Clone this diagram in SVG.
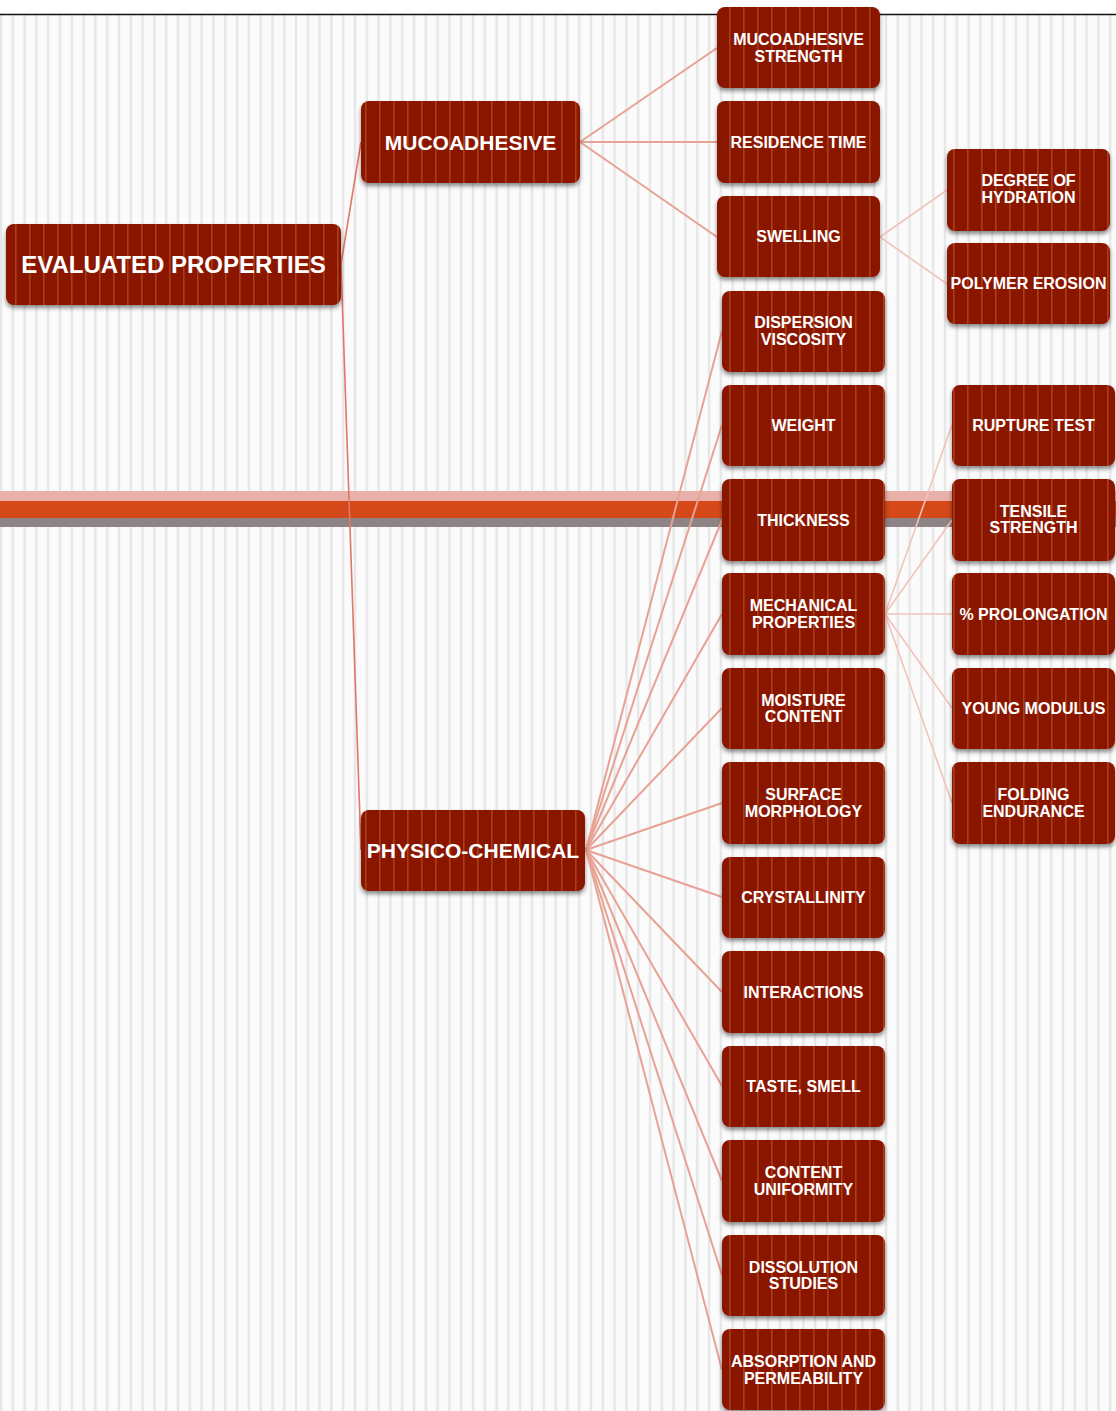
<svg xmlns="http://www.w3.org/2000/svg" width="1116" height="1411" viewBox="0 0 1116 1411">
<defs>
<linearGradient id="bgs" x1="0" y1="0" x2="1" y2="0">
<stop offset="0" stop-color="#ffffff"/>
<stop offset="0.5" stop-color="#dedede"/>
<stop offset="1" stop-color="#ffffff"/>
</linearGradient>
<pattern id="bg" patternUnits="userSpaceOnUse" x="-1" y="0" width="11.8" height="20">
<rect width="11.8" height="20" fill="#fbfbfb"/>
<rect x="0" width="4" height="20" fill="url(#bgs)"/>
</pattern>
<pattern id="ns" patternUnits="userSpaceOnUse" x="1" y="0" width="14" height="20">
<rect width="14" height="20" fill="#8a1500"/>
<rect x="0" width="1.6" height="20" fill="#a8401c"/>
</pattern>
<filter id="sh" x="-10%" y="-10%" width="120%" height="140%">
<feDropShadow dx="0" dy="3" stdDeviation="2.2" flood-color="#000" flood-opacity="0.45"/>
</filter>
<style>
.n{fill:url(#ns);filter:url(#sh)}
.t{font-family:"Liberation Sans",Arial,sans-serif;font-weight:bold;fill:#ffffff;text-anchor:middle;font-size:16px}
.tl{font-size:21px}
.tx{font-size:24px}
.c1{stroke:#e07866;stroke-width:1.6;fill:none}
.c2{stroke:#e8a294;stroke-width:2;fill:none}
.c3{stroke:#f2c3bb;stroke-width:1.6;fill:none}
</style>
</defs>
<rect width="1116" height="1411" fill="#ffffff"/>
<rect x="0" y="15" width="1116" height="1396" fill="url(#bg)"/>
<line x1="0" y1="14.5" x2="1116" y2="14.5" stroke="#111" stroke-width="1.5"/>
<g id="band">
<rect x="0" y="491" width="1116" height="10" fill="#e8b0a9"/>
<rect x="0" y="501" width="1116" height="17" fill="#d4481a"/>
<rect x="0" y="518" width="1116" height="9" fill="#8f8485"/>
</g>
<g id="connectors">
<line class="c1" x1="341" y1="264" x2="361" y2="142"/>
<line class="c1" x1="341" y1="264" x2="361" y2="850"/>
<line class="c2" x1="580" y1="142" x2="717" y2="48"/>
<line class="c2" x1="580" y1="142" x2="717" y2="142"/>
<line class="c2" x1="580" y1="142" x2="717" y2="237"/>
<line class="c3" x1="880" y1="237" x2="947" y2="190"/>
<line class="c3" x1="880" y1="237" x2="947" y2="284"/>
<line class="c2" x1="586" y1="850" x2="722" y2="331"/>
<line class="c2" x1="586" y1="850" x2="722" y2="425"/>
<line class="c2" x1="586" y1="850" x2="722" y2="520"/>
<line class="c2" x1="586" y1="850" x2="722" y2="614"/>
<line class="c2" x1="586" y1="850" x2="722" y2="708"/>
<line class="c2" x1="586" y1="850" x2="722" y2="803"/>
<line class="c2" x1="586" y1="850" x2="722" y2="897"/>
<line class="c2" x1="586" y1="850" x2="722" y2="992"/>
<line class="c2" x1="586" y1="850" x2="722" y2="1086"/>
<line class="c2" x1="586" y1="850" x2="722" y2="1181"/>
<line class="c2" x1="586" y1="850" x2="722" y2="1275"/>
<line class="c2" x1="586" y1="850" x2="722" y2="1370"/>
<line class="c3" x1="885" y1="614" x2="952" y2="425"/>
<line class="c3" x1="885" y1="614" x2="952" y2="520"/>
<line class="c3" x1="885" y1="614" x2="952" y2="614"/>
<line class="c3" x1="885" y1="614" x2="952" y2="708"/>
<line class="c3" x1="885" y1="614" x2="952" y2="803"/>
</g>
<g id="evaluated-properties"><rect class="n" x="6" y="224" width="335" height="81" rx="8"/><text class="t tx" x="173.5" y="272.5">EVALUATED PROPERTIES</text></g>
<g id="mucoadhesive"><rect class="n" x="361" y="101" width="219" height="82" rx="8"/><text class="t tl" x="470.5" y="149.5">MUCOADHESIVE</text></g>
<g id="physico-chemical"><rect class="n" x="361" y="810" width="224" height="81" rx="8"/><text class="t tl" x="473" y="858">PHYSICO-CHEMICAL</text></g>

<g id="mucoadhesive-strength"><rect class="n" x="717" y="7" width="163" height="81" rx="8"/><text class="t" x="798.5" y="44.5">MUCOADHESIVE</text><text class="t" x="798.5" y="61.5">STRENGTH</text></g>
<g id="residence-time"><rect class="n" x="717" y="101" width="163" height="82" rx="8"/><text class="t" x="798.5" y="147.5">RESIDENCE TIME</text></g>
<g id="swelling"><rect class="n" x="717" y="196" width="163" height="81" rx="8"/><text class="t" x="798.5" y="242">SWELLING</text></g>

<g id="degree-of-hydration"><rect class="n" x="947" y="149" width="163" height="82" rx="8"/><text class="t" x="1028.5" y="186">DEGREE OF</text><text class="t" x="1028.5" y="202.5">HYDRATION</text></g>
<g id="polymer-erosion"><rect class="n" x="947" y="243" width="163" height="81" rx="8"/><text class="t" x="1028.5" y="289">POLYMER EROSION</text></g>

<g id="dispersion-viscosity"><rect class="n" x="722" y="291" width="163" height="81" rx="8"/><text class="t" x="803.5" y="328">DISPERSION</text><text class="t" x="803.5" y="344.5">VISCOSITY</text></g>
<g id="weight"><rect class="n" x="722" y="385" width="163" height="81" rx="8"/><text class="t" x="803.5" y="431">WEIGHT</text></g>
<g id="thickness"><rect class="n" x="722" y="479" width="163" height="82" rx="8"/><text class="t" x="803.5" y="525.5">THICKNESS</text></g>
<g id="mechanical-properties"><rect class="n" x="722" y="573" width="163" height="82" rx="8"/><text class="t" x="803.5" y="611">MECHANICAL</text><text class="t" x="803.5" y="627.5">PROPERTIES</text></g>
<g id="moisture-content"><rect class="n" x="722" y="668" width="163" height="81" rx="8"/><text class="t" x="803.5" y="705.5">MOISTURE</text><text class="t" x="803.5" y="722">CONTENT</text></g>
<g id="surface-morphology"><rect class="n" x="722" y="762" width="163" height="82" rx="8"/><text class="t" x="803.5" y="800">SURFACE</text><text class="t" x="803.5" y="816.5">MORPHOLOGY</text></g>
<g id="crystallinity"><rect class="n" x="722" y="857" width="163" height="81" rx="8"/><text class="t" x="803.5" y="903">CRYSTALLINITY</text></g>
<g id="interactions"><rect class="n" x="722" y="951" width="163" height="82" rx="8"/><text class="t" x="803.5" y="997.5">INTERACTIONS</text></g>
<g id="taste-smell"><rect class="n" x="722" y="1046" width="163" height="81" rx="8"/><text class="t" x="803.5" y="1092">TASTE, SMELL</text></g>
<g id="content-uniformity"><rect class="n" x="722" y="1140" width="163" height="82" rx="8"/><text class="t" x="803.5" y="1178">CONTENT</text><text class="t" x="803.5" y="1194.5">UNIFORMITY</text></g>
<g id="dissolution-studies"><rect class="n" x="722" y="1235" width="163" height="81" rx="8"/><text class="t" x="803.5" y="1272.5">DISSOLUTION</text><text class="t" x="803.5" y="1289">STUDIES</text></g>
<g id="absorption-permeability"><rect class="n" x="722" y="1329" width="163" height="81" rx="8"/><text class="t" x="803.5" y="1367">ABSORPTION AND</text><text class="t" x="803.5" y="1383.5">PERMEABILITY</text></g>

<g id="rupture-test"><rect class="n" x="952" y="385" width="163" height="81" rx="8"/><text class="t" x="1033.5" y="431">RUPTURE TEST</text></g>
<g id="tensile-strength"><rect class="n" x="952" y="479" width="163" height="82" rx="8"/><text class="t" x="1033.5" y="517">TENSILE</text><text class="t" x="1033.5" y="533">STRENGTH</text></g>
<g id="prolongation"><rect class="n" x="952" y="573" width="163" height="82" rx="8"/><text class="t" x="1033.5" y="620">% PROLONGATION</text></g>
<g id="young-modulus"><rect class="n" x="952" y="668" width="163" height="81" rx="8"/><text class="t" x="1033.5" y="714">YOUNG MODULUS</text></g>
<g id="folding-endurance"><rect class="n" x="952" y="762" width="163" height="82" rx="8"/><text class="t" x="1033.5" y="800">FOLDING</text><text class="t" x="1033.5" y="816.5">ENDURANCE</text></g>
</svg>
